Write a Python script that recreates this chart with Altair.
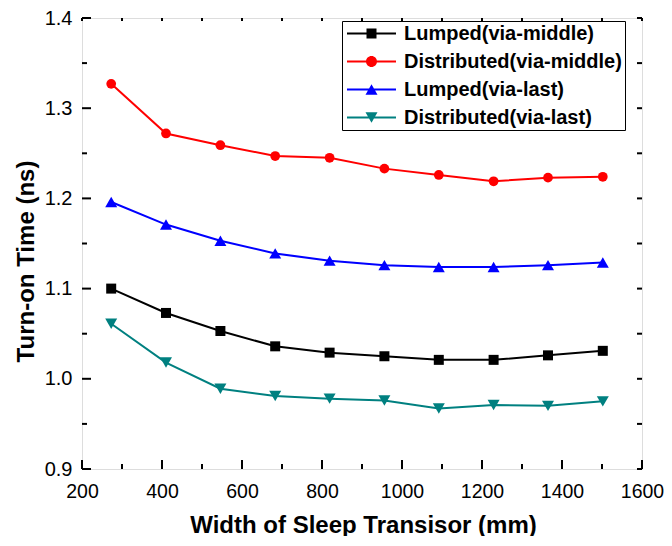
import altair as alt
import pandas as pd

# ---------------- data ----------------
widths = [273, 410, 546, 683, 819, 956, 1092, 1229, 1365, 1502]
lumped_middle = [1.100, 1.073, 1.053, 1.036, 1.029, 1.025, 1.021, 1.021, 1.026, 1.031]
distributed_middle = [1.327, 1.272, 1.259, 1.247, 1.245, 1.233, 1.226, 1.219, 1.223, 1.224]
lumped_last = [1.196, 1.171, 1.153, 1.139, 1.131, 1.126, 1.124, 1.124, 1.126, 1.129]
distributed_last = [1.061, 1.018, 0.989, 0.981, 0.978, 0.976, 0.967, 0.971, 0.970, 0.975]

series_names = ["Lumped(via-middle)", "Distributed(via-middle)",
                "Lumped(via-last)", "Distributed(via-last)"]
series_values = [lumped_middle, distributed_middle, lumped_last, distributed_last]

x_major_ticks = [200, 400, 600, 800, 1000, 1200, 1400, 1600]
x_minor_ticks = [300, 500, 700, 900, 1100, 1300, 1500]
y_major_ticks = [0.9, 1.0, 1.1, 1.2, 1.3, 1.4]
y_minor_ticks = [0.95, 1.05, 1.15, 1.25, 1.35]

# ---------------- styles ----------------
series_colors = ["#000000", "#ff0000", "#0000ff", "#008080"]
marker_shapes = ["square", "circle", "triangle-up", "triangle-down"]
marker_sizes = [100, 95, 144, 144]
LINE = "M-4.083,-0.167H4.083V0.167H-4.083Z"
legend_paths = [
    LINE + "M-0.833,-0.833H0.833V0.833H-0.833Z",
    LINE + "M-0.917,0A0.917,0.917,0,1,1,0.917,0A0.917,0.917,0,1,1,-0.917,0Z",
    LINE + "M0,-0.866L1,0.866L-1,0.866Z",
    LINE + "M0,0.866L-1,-0.866L1,-0.866Z",
]

W, H = 560, 451
FONT = "Liberation Sans"

rows = []
for name, vals in zip(series_names, series_values):
    for w, t in zip(widths, vals):
        rows.append({"w": w, "t": t, "series": name})
df = pd.DataFrame(rows)

xs = alt.Scale(domain=[200, 1600], nice=False, zero=False)
ys = alt.Scale(domain=[0.9, 1.4], nice=False, zero=False)

x_axis = alt.Axis(values=x_major_ticks, format="d", grid=False, ticks=False, tickSize=0,
                  domain=False, labelFont=FONT, labelFontSize=19.5, labelColor="black",
                  labelPadding=13, labelFlush=False, labelOverlap=False,
                  title="Width of Sleep Transisor (mm)", titleFont=FONT, titleFontSize=24,
                  titleFontWeight="bold", titleColor="black", titleX=281, titleY=63,
                  titleBaseline="alphabetic", titleAlign="center")
y_axis = alt.Axis(values=y_major_ticks, format=".1f", grid=False, ticks=False, tickSize=0,
                  domain=False, labelFont=FONT, labelFontSize=20, labelColor="black",
                  labelPadding=10, labelFlush=False, labelOverlap=False,
                  title="Turn-on Time (ns)", titleFont=FONT, titleFontSize=24,
                  titleFontWeight="bold", titleColor="black", titleX=-49, titleY=243,
                  titleBaseline="alphabetic", titleAlign="center")

X = alt.X("w:Q", scale=xs, axis=x_axis)
Y = alt.Y("t:Q", scale=ys, axis=y_axis)

line_layers = []
point_layers = []
for name, col, shp, sz in zip(series_names, series_colors, marker_shapes, marker_sizes):
    base = alt.Chart(df).transform_filter(alt.datum.series == name)
    line_layers.append(base.mark_line(strokeWidth=2, color=col).encode(x=X, y=Y))
    point_layers.append(
        base.mark_point(filled=True, shape=shp, size=sz, color=col, opacity=1)
        .encode(x=X, y=Y)
    )

leg = alt.Legend(orient="none", legendX=260, legendY=3, symbolSize=144,
                 symbolOffset=17, labelOffset=22.5, symbolStrokeWidth=0, symbolOpacity=1,
                 labelFont=FONT, labelFontSize=20, labelFontWeight="bold", labelColor="black",
                 labelLimit=400, padding=2.5, rowPadding=8, strokeColor="black",
                 fillColor="white")
legend_layer = alt.Chart(df).mark_point(filled=True, opacity=0).encode(
    x=X, y=Y,
    color=alt.Color("series:N", scale=alt.Scale(domain=series_names, range=series_colors),
                    legend=leg, title=None),
    shape=alt.Shape("series:N", scale=alt.Scale(domain=series_names, range=legend_paths),
                    legend=leg, title=None),
)

# inward tick marks (mirrored on all four sides)
xmaj = pd.DataFrame({"w": x_major_ticks})
xmin = pd.DataFrame({"w": x_minor_ticks})
xall = pd.DataFrame({"w": x_major_ticks + x_minor_ticks})
ymaj = pd.DataFrame({"t": y_major_ticks})
ymin = pd.DataFrame({"t": y_minor_ticks})
yall = pd.DataFrame({"t": y_major_ticks + y_minor_ticks})

tk = dict(color="black", strokeWidth=2)
ticks = [
    alt.Chart(xmaj).mark_rule(**tk).encode(x=X, y=alt.value(H), y2=alt.value(H - 9)),
    alt.Chart(xmin).mark_rule(**tk).encode(x=X, y=alt.value(H), y2=alt.value(H - 5)),
    alt.Chart(xall).mark_rule(**tk).encode(x=X, y=alt.value(0), y2=alt.value(3)),
    alt.Chart(ymaj).mark_rule(**tk).encode(y=Y, x=alt.value(0), x2=alt.value(9)),
    alt.Chart(ymin).mark_rule(**tk).encode(y=Y, x=alt.value(0), x2=alt.value(5)),
    alt.Chart(yall).mark_rule(**tk).encode(y=Y, x=alt.value(W), x2=alt.value(W - 5)),
]

chart = alt.layer(*line_layers, *point_layers, legend_layer, *ticks).properties(
    width=W, height=H,
    autosize=alt.AutoSizeParams(type="none"),
    padding={"left": 74, "top": 10, "right": 22, "bottom": 67},
).configure_view(stroke="black", strokeWidth=2).configure(background="white")

chart.save("out.html", embed_options={"renderer": "svg", "actions": False})
